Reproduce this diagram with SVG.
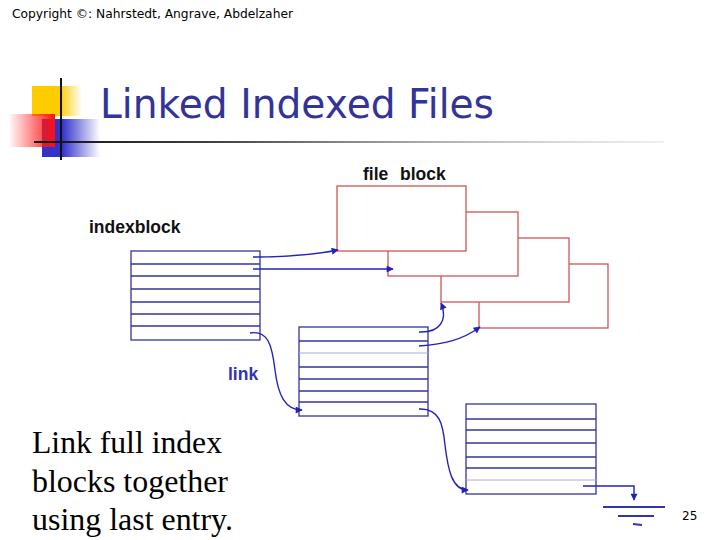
<svg xmlns="http://www.w3.org/2000/svg" width="720" height="540" viewBox="0 0 720 540">
<defs>
<linearGradient id="gY" x1="0" y1="0" x2="1" y2="0"><stop offset="0" stop-color="#ffcc00"/><stop offset="0.55" stop-color="#ffcc00"/><stop offset="1" stop-color="#ffcc00" stop-opacity="0"/></linearGradient>
<linearGradient id="gR" x1="0" y1="0" x2="1" y2="0"><stop offset="0" stop-color="#ff2020" stop-opacity="0.05"/><stop offset="1" stop-color="#ff1010"/></linearGradient>
<linearGradient id="gB" x1="0" y1="0" x2="1" y2="0"><stop offset="0" stop-color="#3333cc"/><stop offset="0.35" stop-color="#3333cc"/><stop offset="1" stop-color="#3333cc" stop-opacity="0"/></linearGradient>
<linearGradient id="gL" x1="0" y1="0" x2="1" y2="0"><stop offset="0" stop-color="#111"/><stop offset="0.3" stop-color="#444"/><stop offset="1" stop-color="#ccc" stop-opacity="0.3"/></linearGradient>
<marker id="ah" viewBox="0 0 10 10" refX="9" refY="5" markerWidth="9" markerHeight="7" markerUnits="userSpaceOnUse" orient="auto"><path d="M0,0 L10,5 L0,10 z" fill="#2222bb"/></marker>
<style>
.hdr{font-family:"DejaVu Sans","Liberation Sans",sans-serif;font-size:12px;fill:#000}
.title{font-family:"DejaVu Sans","Liberation Sans",sans-serif;font-size:40px;fill:#333399}
.lbl{font-family:"Liberation Sans",Arial,sans-serif;font-weight:bold;font-size:17.5px;fill:#111}
.link{font-family:"Liberation Sans",Arial,sans-serif;font-weight:bold;font-size:17.5px;fill:#3333aa}
.body{font-family:"Liberation Serif","Times New Roman",serif;font-size:31px;fill:#000}
.fb{fill:#fff;stroke:#d05555;stroke-width:1.3}
.ib{fill:#fff;stroke:#333399;stroke-width:1.3}
.row{stroke:#333399;stroke-width:1.3}
.rowl{stroke:#aaaacc;stroke-width:1}
.arr{fill:none;stroke:#2222bb;stroke-width:1.4;marker-end:url(#ah)}
.gnd{stroke:#3333aa;stroke-width:2}
</style>
</defs>
<rect width="720" height="540" fill="#fff"/>
<text class="hdr" x="12" y="18" textLength="281" lengthAdjust="spacingAndGlyphs">Copyright ©: Nahrstedt, Angrave, Abdelzaher</text>
<g id="logo">
<rect x="32" y="86" width="50" height="30" fill="url(#gY)"/>
<rect x="42" y="119" width="58" height="38" fill="url(#gB)"/>
<rect x="10" y="114" width="45" height="33" fill="url(#gR)"/>
<line x1="61" y1="78" x2="61" y2="160" stroke="#111" stroke-width="2"/>
<rect x="34" y="141" width="630" height="2" fill="url(#gL)"/>
</g>
<text class="title" x="100" y="118" textLength="394" lengthAdjust="spacingAndGlyphs">Linked Indexed Files</text>
<text class="lbl" x="363" y="180"><tspan>file</tspan><tspan x="400">block</tspan></text>
<text class="lbl" x="89" y="233">indexblock</text>
<text class="link" x="228" y="380">link</text>
<g id="fileblocks">
<rect class="fb" x="479" y="264" width="129" height="64"/>
<rect class="fb" x="441" y="238" width="128" height="64"/>
<rect class="fb" x="388" y="212" width="130" height="64"/>
<rect class="fb" x="337" y="186" width="129" height="65"/>
</g>
<g id="index1">
<rect class="ib" x="131" y="251" width="129" height="89"/>
<line class="row" x1="131" y1="264" x2="260" y2="264"/>
<line class="row" x1="131" y1="276" x2="260" y2="276"/>
<line class="row" x1="131" y1="289" x2="260" y2="289"/>
<line class="row" x1="131" y1="302" x2="260" y2="302"/>
<line class="row" x1="131" y1="314" x2="260" y2="314"/>
<line class="row" x1="131" y1="326" x2="260" y2="326"/>
</g>
<g id="index2">
<rect class="ib" x="299" y="327" width="129" height="89"/>
<line class="row" x1="299" y1="341" x2="428" y2="341"/>
<line class="rowl" x1="299" y1="353" x2="428" y2="353"/>
<line class="row" x1="299" y1="367" x2="428" y2="367"/>
<line class="row" x1="299" y1="379" x2="428" y2="379"/>
<line class="row" x1="299" y1="391" x2="428" y2="391"/>
<line class="row" x1="299" y1="402" x2="428" y2="402"/>
</g>
<g id="index3">
<rect class="ib" x="466" y="404" width="130" height="90"/>
<line class="row" x1="466" y1="419" x2="596" y2="419"/>
<line class="row" x1="466" y1="430" x2="596" y2="430"/>
<line class="row" x1="466" y1="443" x2="596" y2="443"/>
<line class="row" x1="466" y1="457" x2="596" y2="457"/>
<line class="row" x1="466" y1="468" x2="596" y2="468"/>
<line class="rowl" x1="466" y1="480" x2="596" y2="480"/>
</g>
<g id="ground">
<line class="gnd" x1="603" y1="507" x2="665" y2="507"/>
<line class="gnd" x1="618" y1="516" x2="654" y2="516"/>
<line class="gnd" x1="633" y1="524" x2="642" y2="525" stroke-width="1.5"/>
</g>
<g id="connectors">
<path class="arr" d="M253,257 C290,257 318,254 338,250"/>
<path class="arr" d="M253,269 L393,269"/>
<path class="arr" d="M419,332 C440,333 448,320 441,303"/>
<path class="arr" d="M419,346 C445,344 462,340 480,327"/>
<path class="arr" d="M250,333 C268,330 272,345 275,370 C278,395 285,410 302,410"/>
<path class="arr" d="M419,409 C440,408 443,425 445,445 C448,470 452,490 468,490"/>
<path class="arr" d="M583,486 L634,486 L634,500"/>
</g>
<text class="body" x="32" y="453" textLength="190" lengthAdjust="spacingAndGlyphs">Link full index</text>
<text class="body" x="32" y="492" textLength="196" lengthAdjust="spacingAndGlyphs">blocks together</text>
<text class="body" x="32" y="530" textLength="201" lengthAdjust="spacingAndGlyphs">using last entry.</text>
<text class="hdr" x="682" y="520" font-size="13">25</text>
</svg>
